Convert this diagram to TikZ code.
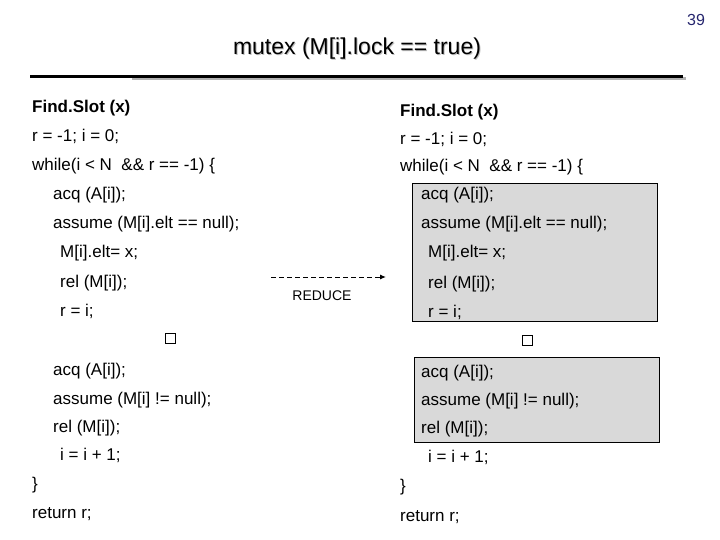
\documentclass[tikz,border=0pt]{standalone}
\usepackage{fontspec}
\setmainfont{Liberation Sans}
\usetikzlibrary{arrows.meta}
\begin{document}
\begin{tikzpicture}[x=1pt,y=-1pt,
  code/.style={anchor=base west,inner sep=0pt,font=\fontsize{17}{20}\selectfont},
  bold/.style={code,font=\fontsize{17}{20}\selectfont\bfseries},
  graybox/.style={draw=black,fill=black!15,line width=0.8pt},
  sq/.style={draw=black,line width=0.6pt,minimum size=10pt,inner sep=0pt}]
\useasboundingbox (0,0) rectangle (720,540);
\node[anchor=center,text=black!60!blue!70!gray,font=\fontsize{16}{18}\selectfont] (pg) at (696,20) {39};
\node[anchor=center,text=black!25,font=\fontsize{23}{26}\selectfont] (tsh) at (358,50) {mutex (M[i].lock == true)};
\node[anchor=center,font=\fontsize{23}{26}\selectfont] (title) at (357,49) {mutex (M[i].lock == true)};
\coordinate (la) at (30,77); \coordinate (lb) at (683,77);
\draw[black!30,line width=3pt] (132,79) -- (686,79);
\draw[line width=3pt] (la) -- (lb);
% gray boxes
\node[graybox,minimum width=245pt,minimum height=138pt,anchor=north west,inner sep=0pt] (b1) at (412,183) {};
\node[graybox,minimum width=245pt,minimum height=85pt,anchor=north west,inner sep=0pt] (b2) at (414,357) {};
% left column
\node[bold] (l1) at (32,113) {Find.Slot (x)};
\node[code] (l2) at (32,142) {r = -1; i = 0;};
\node[code] (l3) at (32,171) {while(i < N \ \&\& r == -1) \{};
\node[code] (l4) at (53,200) {acq (A[i]);};
\node[code] (l5) at (53,229) {assume (M[i].elt == null);};
\node[code] (l6) at (60,258) {M[i].elt= x;};
\node[code] (l7) at (60,287) {rel (M[i]);};
\node[code] (l8) at (60,316) {r = i;};
\node[sq] (s1) at (170,338) {};
\node[code] (l9) at (53,375) {acq (A[i]);};
\node[code] (l10) at (53,404) {assume (M[i] != null);};
\node[code] (l11) at (53,432) {rel (M[i]);};
\node[code] (l12) at (60,460) {i = i + 1;};
\node[code] (l13) at (32,489) {\}};
\node[code] (l14) at (32,518) {return r;};
% right column
\node[bold] (r1) at (400,117) {Find.Slot (x)};
\node[code] (r2) at (400,145) {r = -1; i = 0;};
\node[code] (r3) at (400,172) {while(i < N \ \&\& r == -1) \{};
\node[code] (r4) at (421,200) {acq (A[i]);};
\node[code] (r5) at (421,229) {assume (M[i].elt == null);};
\node[code] (r6) at (428,258) {M[i].elt= x;};
\node[code] (r7) at (428,288) {rel (M[i]);};
\node[code] (r8) at (428,317) {r = i;};
\node[sq] (s2) at (527,340) {};
\node[code] (r9) at (421,377) {acq (A[i]);};
\node[code] (r10) at (421,405) {assume (M[i] != null);};
\node[code] (r11) at (421,433) {rel (M[i]);};
\node[code] (r12) at (428,462) {i = i + 1;};
\node[code] (r13) at (400,491) {\}};
\node[code] (r14) at (400,521) {return r;};
% arrow
\coordinate (a1) at (271,277); \coordinate (a2) at (386,277);
\draw[dashed,line width=1pt,dash pattern=on 5pt off 3pt,-{Latex[length=6pt,width=5pt]}] (a1) -- (a2);
\node[anchor=center,font=\fontsize{14}{16}\selectfont] (red) at (322,296) {REDUCE};
\end{tikzpicture}
\end{document}
